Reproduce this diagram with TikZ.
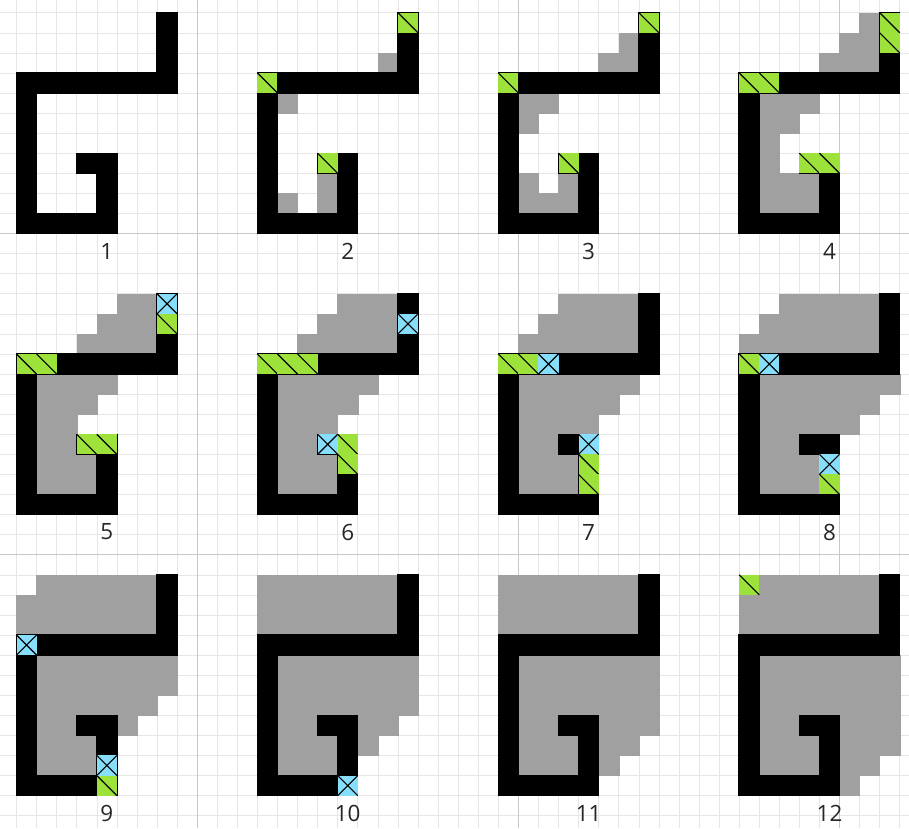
\documentclass[tikz,border=0pt]{standalone}
\usepackage{fontspec}
\setmainfont{Open Sans}
\definecolor{gfill}{RGB}{156,226,58}
\definecolor{bfill}{RGB}{135,222,250}
\definecolor{gcell}{RGB}{160,160,160}
\definecolor{gridc}{RGB}{230,230,230}
\definecolor{majc}{RGB}{200,200,200}
\newcommand\myWall{\filldraw[wallshape] (7,0) -- (8,0) -- (8,4) -- (1,4) -- (1,10) -- (4,10) -- (4,8) -- (3,8) -- (3,7) -- (5,7) -- (5,11) -- (0,11) -- (0,3) -- (7,3) -- cycle;}
\newcommand\myGray[1]{\foreach \yy/\aa/\bb in {#1}{\filldraw[graycell] (\aa,\yy) rectangle (\bb+1,\yy+1);}}
\newcommand\myGreen[1]{\foreach \xx/\yy in {#1}{\fill[gfill] (\xx,\yy) rectangle ++(1,1); \draw[diagline] (\xx,\yy) -- ++(1,1);}}
\newcommand\myBlue[1]{\foreach \xx/\yy in {#1}{\fill[bfill] (\xx,\yy) rectangle ++(1,1); \draw[diagline] (\xx,\yy) -- ++(1,1) (\xx+1,\yy) -- ++(-1,1);}}
\begin{document}
\begin{tikzpicture}[x=0.5cm,y=-0.5cm,
  gridline/.style={draw=gridc,line width=0.4pt},
  majorline/.style={draw=majc,line width=0.6pt},
  graycell/.style={fill=gcell,draw=gcell,line width=0.3pt},
  wallshape/.style={fill=black,draw=black,line width=1pt,line join=miter},
  diagline/.style={draw=black,line width=0.8pt},
  lbl/.style={font=\fontsize{15.9}{18}\selectfont,text=black!85,inner sep=0pt}]
\useasboundingbox (-0.822,-0.633) rectangle (44.46,40.62);
\fill[white] (-0.822,-0.633) rectangle (44.46,40.62);
% grid
\foreach \i in {0,...,44} {\draw[gridline] (\i,-0.633) -- (\i,40.62);}
\foreach \j in {0,...,40} {\draw[gridline] (-0.822,\j) -- (44.46,\j);}
\foreach \i in {9,25,41} {\draw[majorline] (\i,-0.633) -- (\i,40.62);}
\foreach \j in {11,27} {\draw[majorline] (-0.822,\j) -- (44.46,\j);}
% panel 1
\begin{scope}[shift={(0,0)}]
\myWall
\node[lbl] (lab1) at (4.5,11.87) {1};
\end{scope}
% panel 2
\begin{scope}[shift={(12,0)}]
\myGray{2/6/6,4/1/1,8/3/3,9/1/1,9/3/3}
\myWall
\myGreen{7/0,0/3,3/7}
\node[lbl] (lab2) at (4.5,11.87) {2};
\end{scope}
% panel 3
\begin{scope}[shift={(24,0)}]
\myGray{1/6/6,2/5/6,4/1/2,5/1/1,8/1/1,8/3/3,9/1/3}
\myWall
\myGreen{7/0,0/3,3/7}
\node[lbl] (lab3) at (4.5,11.87) {3};
\end{scope}
% panel 4
\begin{scope}[shift={(36,0)}]
\myGray{0/6/6,1/5/6,2/4/6,4/1/3,5/1/2,6/1/1,7/1/1,8/1/3,9/1/3}
\myWall
\myGreen{7/0,7/1,0/3,1/3,3/7,4/7}
\node[lbl] (lab4) at (4.5,11.87) {4};
\end{scope}
% panel 5
\begin{scope}[shift={(0,14)}]
\myGray{0/5/6,1/4/6,2/3/6,4/1/4,5/1/3,6/1/2,7/1/2,8/1/3,9/1/3}
\myWall
\myGreen{7/1,0/3,1/3,3/7,4/7}
\myBlue{7/0}
\node[lbl] (lab5) at (4.5,11.87) {5};
\end{scope}
% panel 6
\begin{scope}[shift={(12,14)}]
\myGray{0/4/6,1/3/6,2/2/6,4/1/5,5/1/4,6/1/3,7/1/2,8/1/3,9/1/3}
\myWall
\myGreen{0/3,1/3,2/3,4/7,4/8}
\myBlue{7/1,3/7}
\node[lbl] (lab6) at (4.5,11.87) {6};
\end{scope}
% panel 7
\begin{scope}[shift={(24,14)}]
\myGray{0/3/6,1/2/6,2/1/6,4/1/6,5/1/5,6/1/4,7/1/2,8/1/3,9/1/3}
\myWall
\myGreen{0/3,1/3,4/8,4/9}
\myBlue{2/3,4/7}
\node[lbl] (lab7) at (4.5,11.87) {7};
\end{scope}
% panel 8
\begin{scope}[shift={(36,14)}]
\myGray{0/2/6,1/1/6,2/0/6,4/1/7,5/1/6,6/1/5,7/1/2,8/1/3,9/1/3}
\myWall
\myGreen{0/3,4/9}
\myBlue{1/3,4/8}
\node[lbl] (lab8) at (4.5,11.87) {8};
\end{scope}
% panel 9
\begin{scope}[shift={(0,28)}]
\myGray{0/1/6,1/0/6,2/0/6,4/1/7,5/1/7,6/1/6,7/1/2,7/5/5,8/1/3,9/1/3}
\myWall
\myGreen{4/10}
\myBlue{0/3,4/9}
\node[lbl] (lab9) at (4.5,11.87) {9};
\end{scope}
% panel 10
\begin{scope}[shift={(12,28)}]
\myGray{0/0/6,1/0/6,2/0/6,4/1/7,5/1/7,6/1/7,7/1/2,7/5/6,8/1/3,8/5/5,9/1/3}
\myWall
\myBlue{4/10}
\node[lbl] (lab10) at (4.5,11.87) {10};
\end{scope}
% panel 11
\begin{scope}[shift={(24,28)}]
\myGray{0/0/6,1/0/6,2/0/6,4/1/7,5/1/7,6/1/7,7/1/2,7/5/7,8/1/3,8/5/6,9/1/3,9/5/5}
\myWall
\node[lbl] (lab11) at (4.5,11.87) {11};
\end{scope}
% panel 12
\begin{scope}[shift={(36,28)}]
\myGray{0/0/6,1/0/6,2/0/6,4/1/7,5/1/7,6/1/7,7/1/2,7/5/7,8/1/3,8/5/7,9/1/3,9/5/6,10/5/5}
\myWall
\myGreen{0/0}
\node[lbl] (lab12) at (4.5,11.87) {12};
\end{scope}
\end{tikzpicture}
\end{document}
